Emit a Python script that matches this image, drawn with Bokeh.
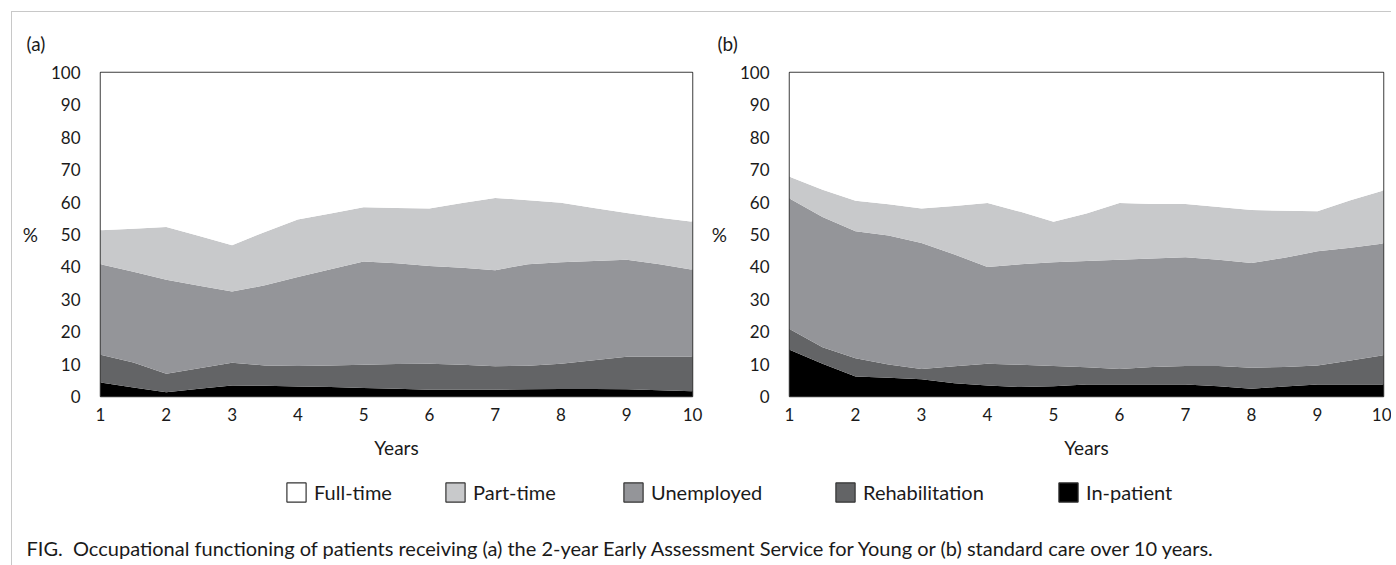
from bokeh.plotting import figure
from bokeh.models import (ColumnDataSource, Range1d, FixedTicker, Legend,
                          LegendItem, Label)
from bokeh.layouts import column, row
from bokeh.embed import file_html
from bokeh.resources import INLINE

# ---------------- data ----------------
years = [1, 1.5, 2, 2.5, 3, 3.5, 4, 4.5, 5, 5.5, 6, 6.5, 7, 7.5, 8, 8.5, 9, 9.5, 10]
categories = ["In-patient", "Rehabilitation", "Unemployed", "Part-time", "Full-time"]
legend_order = ["Full-time", "Part-time", "Unemployed", "Rehabilitation", "In-patient"]
x_ticks = [1, 2, 3, 4, 5, 6, 7, 8, 9, 10]
y_ticks = [0, 10, 20, 30, 40, 50, 60, 70, 80, 90, 100]

# (a) Early Assessment Service for Young
a_inpatient = [4.3, 2.8, 1.3, 2.4, 3.4, 3.3, 3.1, 2.9, 2.6, 2.4, 2.1, 2.1, 2.1, 2.2, 2.3, 2.3, 2.2, 1.9, 1.6]
a_rehab = [8.6, 7.7, 5.7, 6.3, 7.0, 6.3, 6.3, 6.7, 7.2, 7.6, 8.0, 7.7, 7.2, 7.3, 7.8, 8.9, 10.1, 10.4, 10.7]
a_unemployed = [27.9, 28.0, 29.0, 25.5, 22.0, 24.7, 27.5, 29.7, 31.9, 31.1, 30.2, 29.9, 29.7, 31.3, 31.3, 30.6, 29.9, 28.5, 26.8]
a_parttime = [10.5, 13.3, 16.3, 15.3, 14.3, 16.5, 17.7, 17.2, 16.7, 17.1, 17.7, 20.0, 22.3, 19.8, 18.4, 16.4, 14.4, 14.4, 14.8]
a_fulltime = [48.7, 48.2, 47.7, 50.5, 53.3, 49.2, 45.4, 43.5, 41.6, 41.8, 42.0, 40.3, 38.7, 39.4, 40.2, 41.8, 43.4, 44.8, 46.1]

# (b) standard care
b_inpatient = [14.4, 10.1, 6.2, 5.8, 5.3, 4.1, 3.4, 2.9, 3.2, 3.7, 3.7, 3.7, 3.7, 3.2, 2.4, 3.1, 3.7, 3.7, 3.7]
b_rehab = [6.4, 5.1, 5.6, 4.1, 3.2, 5.2, 6.7, 6.9, 6.2, 5.3, 4.8, 5.4, 5.7, 6.2, 6.5, 6.0, 5.9, 7.4, 9.0]
b_unemployed = [40.3, 40.2, 39.2, 39.8, 38.9, 34.5, 29.9, 31.0, 32.0, 32.8, 33.7, 33.5, 33.6, 32.8, 32.3, 33.7, 35.2, 34.8, 34.5]
b_parttime = [6.7, 8.4, 9.4, 9.6, 10.6, 15.0, 19.7, 16.2, 12.5, 14.7, 17.5, 16.8, 16.4, 16.3, 16.4, 14.5, 12.4, 14.7, 16.4]
b_fulltime = [32.2, 36.2, 39.6, 40.7, 42.0, 41.2, 40.3, 43.0, 46.1, 43.5, 40.3, 40.6, 40.6, 41.5, 42.4, 42.7, 42.8, 39.4, 36.4]

caption = ("FIG.\u00a0 Occupational functioning of patients receiving (a) the 2-year Early "
           "Assessment Service for Young or (b) standard care over 10 years.")

# ---------------- style ----------------
FONT = "Lato"
COLORS = {"In-patient": "#000000", "Rehabilitation": "#636466",
          "Unemployed": "#949599", "Part-time": "#c8c9cb", "Full-time": "#ffffff"}
TEXT_COLOR = "#1a1a1a"
NAN = float("nan")


def make_panel(tag, series, width, mbl, mbr, title_offset):
    data = {"x": years}
    for name, vals in zip(categories, series):
        data[name] = vals
    src = ColumnDataSource(data)
    p = figure(width=width, height=458, x_range=Range1d(1, 10), y_range=Range1d(0, 100),
               output_backend="svg", toolbar_location=None,
               min_border_left=mbl, min_border_right=mbr,
               min_border_top=60, min_border_bottom=74)
    p.varea_stack(stackers=categories, x="x", source=src,
                  fill_color=[COLORS[c] for c in categories])
    p.grid.visible = False
    p.outline_line_color = "#3c3c3c"
    p.outline_line_width = 1.5
    for ax in (p.xaxis[0], p.yaxis[0]):
        ax.axis_line_color = None
        ax.major_tick_line_color = None
        ax.minor_tick_line_color = None
        ax.major_label_text_font = FONT
        ax.major_label_text_font_size = "17px"
        ax.major_label_text_color = TEXT_COLOR
        ax.axis_label_text_font = FONT
        ax.axis_label_text_font_size = "19px"
        ax.axis_label_text_font_style = "normal"
        ax.axis_label_text_color = TEXT_COLOR
    p.xaxis.ticker = FixedTicker(ticks=x_ticks)
    p.yaxis.ticker = FixedTicker(ticks=y_ticks)
    p.xaxis.major_label_standoff = 5
    p.yaxis.major_label_standoff = 14
    p.xaxis.axis_label = "Years"
    p.xaxis.axis_label_standoff = 12
    p.yaxis.axis_label = "%"
    p.yaxis.axis_label_orientation = "horizontal"
    p.yaxis.axis_label_standoff = 10
    p.title.text = tag
    p.title.align = "left"
    p.title.offset = title_offset
    p.title.text_font = FONT
    p.title.text_font_size = "19px"
    p.title.text_font_style = "normal"
    p.title.text_color = TEXT_COLOR
    p.title.standoff = 35
    return p


pa = make_panel("(a)", [a_inpatient, a_rehab, a_unemployed, a_parttime, a_fulltime],
                691, 88, 11, -74)
pb = make_panel("(b)", [b_inpatient, b_rehab, b_unemployed, b_parttime, b_fulltime],
                688, 86, 8, -72)

# bottom strip: legend + caption
STRIP_H = 95
pbot = figure(width=1379, height=STRIP_H, x_range=Range1d(0, 1379), y_range=Range1d(STRIP_H, 0),
              output_backend="svg", toolbar_location=None,
              x_axis_location=None, y_axis_location=None,
              min_border=0, min_border_left=0, min_border_right=0,
              min_border_top=0, min_border_bottom=0)
pbot.grid.visible = False
pbot.outline_line_color = None

legend_x = [272, 431, 609, 821, 1044]   # screen offsets of each legend entry
for name, lx in zip(legend_order, legend_x):
    r = pbot.quad(left=[NAN], right=[NAN], top=[NAN], bottom=[NAN],
                  fill_color=COLORS[name], line_color="#333333", line_width=1.2)
    leg = Legend(items=[LegendItem(label=name, renderers=[r])],
                 orientation="horizontal", location=(lx, STRIP_H - 10 - 24),
                 margin=0, padding=0, spacing=0, label_standoff=6,
                 glyph_width=24, glyph_height=24, label_height=24,
                 border_line_color=None, background_fill_alpha=0,
                 label_text_font=FONT, label_text_font_size="20px",
                 label_text_color=TEXT_COLOR)
    pbot.add_layout(leg)

pbot.add_layout(Label(x=14, y=77, text=caption, text_font=FONT, text_font_size="20px",
                      text_baseline="middle", text_color=TEXT_COLOR))

layout = column(row(pa, pb), pbot, margin=(11, 0, 0, 11),
                styles={"border-top": "1px solid #c8c8c8", "border-left": "1px solid #c8c8c8"})

open("out.html", "w").write(file_html(layout, INLINE))
